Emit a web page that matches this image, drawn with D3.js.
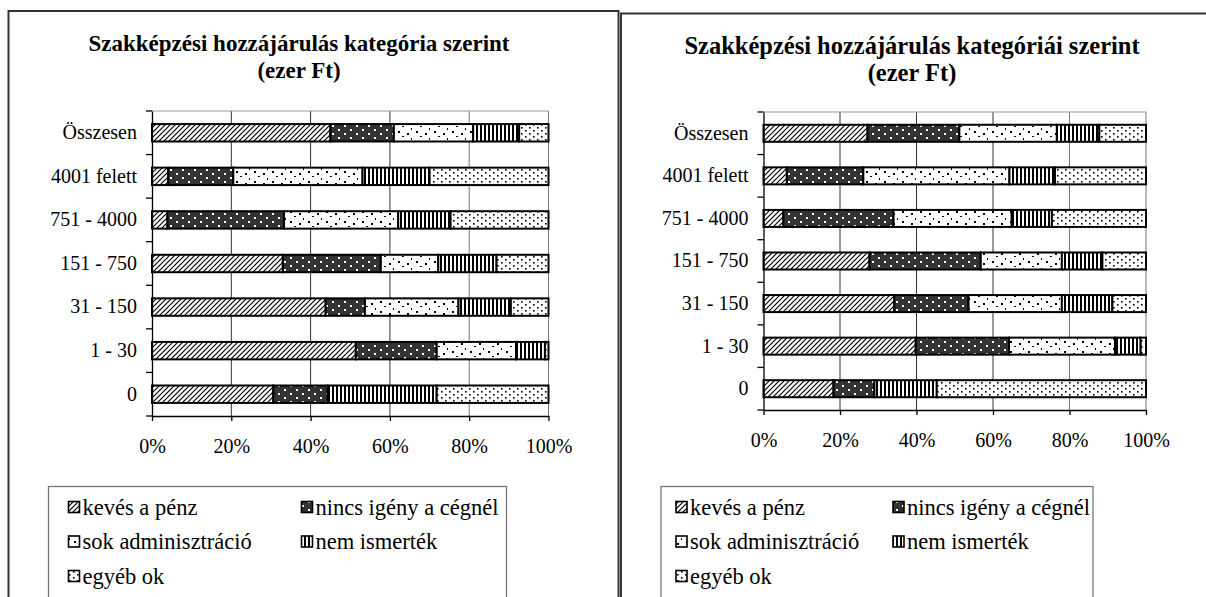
<!DOCTYPE html>
<html>
<head>
<meta charset="utf-8">
<script src="https://cdn.jsdelivr.net/npm/d3@7"></script>
<style>
  html, body { margin: 0; padding: 0; background: #fff; }
  svg { display: block; font-family: "Liberation Serif", "Times New Roman", serif; }
</style>
</head>
<body>
<svg id="chart" width="1206" height="597"></svg>
<script>
// ---------- data ----------
const categories = ["Összesen", "4001 felett", "751 - 4000", "151 - 750", "31 - 150", "1 - 30", "0"];
const seriesNames = ["kevés a pénz", "nincs igény a cégnél", "sok adminisztráció", "nem ismerték", "egyéb ok"];
const xTickValues = [0, 20, 40, 60, 80, 100];
const xTickLabels = ["0%", "20%", "40%", "60%", "80%", "100%"];

const leftTitle = ["Szakképzési hozzájárulás kategória szerint", "(ezer Ft)"];
const leftKeves  = [45.0, 4.1, 3.9, 33.0, 43.8, 51.4, 30.6];
const leftNincs  = [16.0, 16.4, 29.4, 24.7, 9.9, 20.4, 13.7];
const leftSok    = [20.0, 32.6, 28.8, 14.5, 23.6, 20.0, 0.0];
const leftNem    = [11.6, 16.9, 13.2, 14.7, 13.2, 7.3, 27.5];
const leftEgyeb  = [7.4, 30.0, 24.7, 13.1, 9.5, 0.9, 28.2];

const rightTitle = ["Szakképzési hozzájárulás kategóriái szerint", "(ezer Ft)"];
const rightKeves = [27.2, 6.1, 5.2, 27.7, 34.2, 39.8, 18.3];
const rightNincs = [24.0, 20.0, 28.8, 29.1, 19.4, 24.4, 10.7];
const rightSok   = [25.5, 38.2, 30.9, 21.2, 24.4, 27.7, 0.0];
const rightNem   = [11.1, 11.9, 10.5, 10.6, 13.2, 6.7, 16.3];
const rightEgyeb = [12.2, 23.8, 24.6, 11.4, 8.8, 1.4, 54.7];

// ---------- patterns ----------
const svg = d3.select("#chart");
const defs = svg.append("defs");

function pat(id, w, h, bg) {
  const p = defs.append("pattern").attr("id", id)
    .attr("patternUnits", "userSpaceOnUse").attr("width", w).attr("height", h);
  p.append("rect").attr("width", w).attr("height", h).attr("fill", bg);
  return p;
}
function dots(p, list, color) {
  list.forEach(r => p.append("rect").attr("x", r[0]).attr("y", r[1])
    .attr("width", r[2]).attr("height", r[3]).attr("fill", color));
}
// diagonal hatch
{
  const p = pat("pKeves", 5, 5, "#fff");
  p.append("path").attr("d", "M-1,6 L6,-1 M-3.5,3.5 L3.5,-3.5 M1.5,8.5 L8.5,1.5")
    .attr("stroke", "#000").attr("stroke-width", 1.2);
}
// dark with white dots
{
  const p = pat("pNincs", 12, 8, "#333");
  dots(p, [[2, 1, 2, 2], [8, 5, 2, 2]], "#fff");
}
// sparse confetti
{
  const p = pat("pSok", 18, 10, "#fff");
  dots(p, [[2, 1, 2, 2], [11, 3, 2, 2], [6, 6, 2, 1], [15, 8, 1, 2]], "#000");
}
// vertical stripes
{
  const p = pat("pNem", 4, 4, "#fff");
  dots(p, [[0, 0, 2, 4]], "#000");
}
// dotted
{
  const p = pat("pEgyeb", 8, 6, "#fff");
  dots(p, [[1, 1, 1.6, 1.6], [5, 4, 1.6, 1.6]], "#000");
}
const fills = ["url(#pKeves)", "url(#pNincs)", "url(#pSok)", "url(#pNem)", "url(#pEgyeb)"];

// ---------- chart drawing ----------
function drawChart(cfg) {
  const g = svg.append("g");
  g.append("path").attr("d", cfg.frame).attr("fill", "none").attr("stroke", "#333").attr("stroke-width", 2);

  cfg.title.forEach((t, i) => g.append("text")
    .attr("x", cfg.titleX).attr("y", cfg.titleY + i * 27)
    .attr("text-anchor", "middle").attr("font-weight", "bold").attr("font-size", cfg.titleSize).text(t));

  const x = d3.scaleLinear().domain([0, 100]).range([cfg.x0, cfg.x1]);
  const y = d3.scaleBand().domain(categories).range([cfg.top, cfg.bottom]).paddingInner(0.6).paddingOuter(0.3);

  // gridlines & plot border
  g.append("g").selectAll("line").data(xTickValues.slice(1)).join("line")
    .attr("x1", d => x(d)).attr("x2", d => x(d)).attr("y1", cfg.top).attr("y2", cfg.bottom)
    .attr("stroke", d => d >= 80 ? "#777" : "#333").attr("stroke-width", 1);
  g.append("line").attr("x1", cfg.x0).attr("x2", cfg.x1).attr("y1", cfg.top).attr("y2", cfg.top)
    .attr("stroke", "#999");

  // stacked bars
  const rows = categories.map((c, i) => {
    const o = { cat: c };
    seriesNames.forEach((s, k) => o[s] = cfg.series[k][i]);
    return o;
  });
  const stack = d3.stack().keys(seriesNames)(rows);
  stack.forEach((layer, k) => {
    g.append("g").selectAll("rect").data(layer.filter(d => d[1] - d[0] > 0)).join("rect")
      .attr("x", d => x(d[0])).attr("width", d => x(d[1]) - x(d[0]))
      .attr("y", d => y(d.data.cat)).attr("height", y.bandwidth())
      .attr("fill", fills[k]).attr("stroke", "#000").attr("stroke-width", 2);
  });

  // x axis
  const xAxis = d3.axisBottom(x).tickValues(xTickValues).tickFormat((d, i) => xTickLabels[i])
    .tickSizeInner(5).tickSizeOuter(0).tickPadding(cfg.xPad);
  const xa = g.append("g").attr("transform", `translate(0,${cfg.bottom})`).call(xAxis);
  xa.attr("font-family", null);
  xa.selectAll("path,line").attr("stroke", "#000").attr("stroke-width", 1.3);
  xa.selectAll("text").attr("font-size", 20).attr("fill", "#000");

  // y axis (ticks between categories)
  const yAxis = d3.axisLeft(y).tickSize(0).tickPadding(15);
  const ya = g.append("g").attr("transform", `translate(${cfg.x0},0)`).call(yAxis);
  ya.attr("font-family", null);
  ya.select("path").attr("stroke", "#000").attr("stroke-width", 1.3);
  ya.selectAll("text").attr("font-size", 20).attr("fill", "#000");
  const step = y.step();
  g.append("g").selectAll("line").data(d3.range(categories.length + 1)).join("line")
    .attr("x1", cfg.x0 - 6).attr("x2", cfg.x0)
    .attr("y1", d => cfg.top + d * step).attr("y2", d => cfg.top + d * step)
    .attr("stroke", "#000").attr("stroke-width", 1.3);

  // legend
  g.append("rect").attr("x", cfg.legX).attr("y", 486.5).attr("width", cfg.legW).attr("height", 130)
    .attr("fill", "none").attr("stroke", "#777").attr("stroke-width", 1.3);
  seriesNames.forEach((s, k) => {
    const col = k % 2, row = Math.floor(k / 2);
    const lx = cfg.legX + cfg.legCol[col];
    const ly = 507 + row * 34.5;
    g.append("rect").attr("x", lx).attr("y", ly - 5.5).attr("width", 11).attr("height", 11)
      .attr("fill", fills[k]).attr("stroke", "#000").attr("stroke-width", 1.6);
    g.append("text").attr("x", lx + 14).attr("y", ly + 7.5).attr("font-size", 22.5).text(s);
  });
}

drawChart({
  frame: "M8.5,600 L8.5,11 L618.5,11 L618.5,600",
  title: leftTitle, titleX: 299, titleY: 51, titleSize: 23,
  x0: 152, x1: 548.5, top: 111, bottom: 416, xPad: 18,
  series: [leftKeves, leftNincs, leftSok, leftNem, leftEgyeb],
  legX: 48.5, legW: 458, legCol: [20, 253]
});
drawChart({
  frame: "M621,600 L621,13.5 L1210,13.5",
  title: rightTitle, titleX: 912, titleY: 54, titleSize: 24.5,
  x0: 763.5, x1: 1146, top: 112, bottom: 410, xPad: 18,
  series: [rightKeves, rightNincs, rightSok, rightNem, rightEgyeb],
  legX: 661, legW: 432, legCol: [15, 232]
});
</script>
</body>
</html>
